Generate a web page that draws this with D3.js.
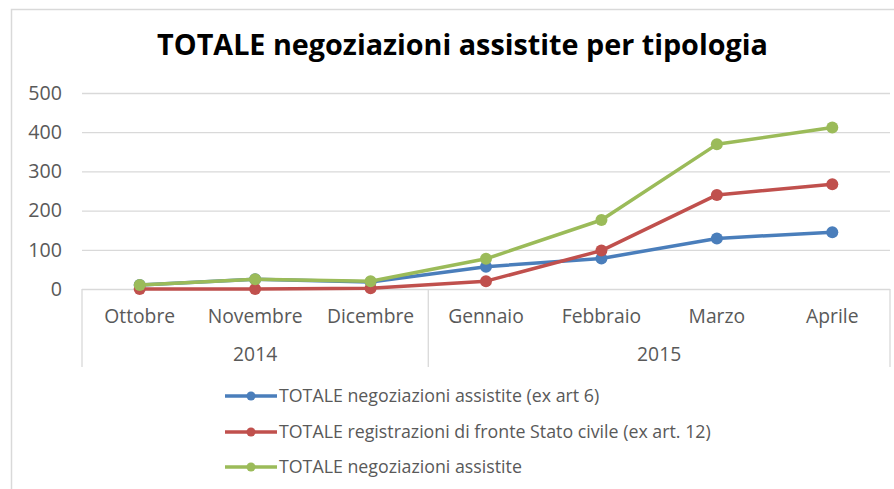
<!DOCTYPE html>
<html>
<head>
<meta charset="utf-8">
<script src="https://cdn.jsdelivr.net/npm/d3@7"></script>
<style>
  html, body { margin: 0; padding: 0; background: #fff; }
  svg { display: block; }
  text { font-family: "Open Sans", "Noto Sans", sans-serif; }
</style>
</head>
<body>
<svg id="chart" width="894" height="489"></svg>
<script>
// ---------- data ----------
const categories = ["Ottobre", "Novembre", "Dicembre", "Gennaio", "Febbraio", "Marzo", "Aprile"];
const yearOfCategory = ["2014", "2014", "2014", "2015", "2015", "2015", "2015"];
const seriesNames = [
  "TOTALE negoziazioni assistite (ex art 6)",
  "TOTALE registrazioni di fronte Stato civile (ex art. 12)",
  "TOTALE negoziazioni assistite"
];
const art6Values = [10, 25, 18, 57, 78, 129, 145];
const art12Values = [0, 0, 2, 20, 98, 240, 267];
const totalValues = [10, 25, 20, 77, 176, 369, 412];
const yTicks = [0, 100, 200, 300, 400, 500];
const titleText = "TOTALE negoziazioni assistite per tipologia";

(function () {
// ---------- layout ----------
const colors = ["#4A7EBB", "#C0504D", "#9BBB59"];
const seriesValues = [art6Values, art12Values, totalValues];
const plotLeft = 82, plotRight = 890, plotTop = 93, plotBottom = 289;
const axisBoxBottom = 367;
const svg = d3.select("#chart");

const x = d3.scaleBand().domain(categories).range([plotLeft, plotRight]).padding(0);
const cx = c => x(c) + x.bandwidth() / 2;
const y = d3.scaleLinear().domain([0, 500]).range([plotBottom, plotTop]);

function fitSize(textSel, target) {
  textSel.style("font-size", "20px");
  const w = textSel.node().getComputedTextLength();
  const s = 20 * target / w;
  textSel.style("font-size", s + "px");
  return s;
}

// chart border (left/top visible)
svg.append("rect")
  .attr("x", 11.5).attr("y", 9.5)
  .attr("width", 1000).attr("height", 1000)
  .attr("fill", "none").attr("stroke", "#d9d9d9").attr("stroke-width", 1.5);

// title
const title = svg.append("text")
  .attr("x", 462.5).attr("y", 55)
  .attr("text-anchor", "middle")
  .attr("font-weight", "bold")
  .attr("fill", "#000")
  .text(titleText);
fitSize(title, 611);

// gridlines
svg.append("g").selectAll("line")
  .data(yTicks.filter(t => t > 0))
  .join("line")
  .attr("x1", plotLeft).attr("x2", plotRight)
  .attr("y1", d => y(d) + 0.5).attr("y2", d => y(d) + 0.5)
  .attr("stroke", "#d9d9d9").attr("stroke-width", 1.3);

// y tick labels
const yLab = svg.append("g").selectAll("text")
  .data(yTicks)
  .join("text")
  .attr("x", 62).attr("y", d => y(d))
  .attr("dy", "0.35em")
  .attr("text-anchor", "end")
  .attr("fill", "#595959")
  .text(d => d);
const ySize = fitSize(yLab.filter(d => d === 500), 33.7);
yLab.style("font-size", ySize + "px");

// x axis box
const axisG = svg.append("g");
axisG.append("line")
  .attr("x1", plotLeft).attr("x2", plotRight)
  .attr("y1", plotBottom + 0.5).attr("y2", plotBottom + 0.5)
  .attr("stroke", "#d9d9d9").attr("stroke-width", 1.3);
const years = Array.from(new Set(yearOfCategory));
const yearGroups = years.map(yr => {
  const cats = categories.filter((c, i) => yearOfCategory[i] === yr);
  return { year: yr, x0: x(cats[0]), x1: x(cats[cats.length - 1]) + x.bandwidth() };
});
const dividers = [plotLeft].concat(yearGroups.map(g => g.x1));
axisG.selectAll("line.div")
  .data(dividers)
  .join("line")
  .attr("class", "div")
  .attr("x1", d => d).attr("x2", d => d)
  .attr("y1", plotBottom).attr("y2", axisBoxBottom)
  .attr("stroke", "#d9d9d9").attr("stroke-width", 1.3);

// month labels
const monthLab = axisG.selectAll("text.month")
  .data(categories)
  .join("text")
  .attr("class", "month")
  .attr("x", d => cx(d)).attr("y", 316)
  .attr("dy", "0.35em")
  .attr("text-anchor", "middle")
  .attr("fill", "#595959")
  .text(d => d);
const mSize = fitSize(monthLab.filter(d => d === "Novembre"), 95);
monthLab.style("font-size", mSize + "px");

// year labels
axisG.selectAll("text.year")
  .data(yearGroups)
  .join("text")
  .attr("class", "year")
  .attr("x", d => (d.x0 + d.x1) / 2).attr("y", 354)
  .attr("dy", "0.35em")
  .attr("text-anchor", "middle")
  .attr("fill", "#595959")
  .style("font-size", mSize + "px")
  .text(d => d.year);

// series
const line = d3.line()
  .x((d, i) => cx(categories[i]))
  .y(d => y(d));
seriesValues.forEach((vals, si) => {
  const g = svg.append("g");
  g.append("path")
    .datum(vals)
    .attr("d", line)
    .attr("fill", "none")
    .attr("stroke", colors[si])
    .attr("stroke-width", 3.5)
    .attr("stroke-linejoin", "round")
    .attr("stroke-linecap", "round");
  g.selectAll("circle")
    .data(vals)
    .join("circle")
    .attr("cx", (d, i) => cx(categories[i]))
    .attr("cy", d => y(d))
    .attr("r", 6)
    .attr("fill", colors[si]);
});

// legend
const legendRows = [396, 432, 467];
const legend = svg.append("g").selectAll("g")
  .data(seriesNames)
  .join("g");
legend.append("line")
  .attr("x1", 225).attr("x2", 277)
  .attr("y1", (d, i) => legendRows[i]).attr("y2", (d, i) => legendRows[i])
  .attr("stroke", (d, i) => colors[i])
  .attr("stroke-width", 3.5);
legend.append("circle")
  .attr("cx", 251).attr("cy", (d, i) => legendRows[i])
  .attr("r", 4.5)
  .attr("fill", (d, i) => colors[i]);
const legText = legend.append("text")
  .attr("x", 279).attr("y", (d, i) => legendRows[i])
  .attr("dy", "0.35em")
  .attr("fill", "#595959")
  .text(d => d);
const lSize = fitSize(legText.filter((d, i) => i === 1), 432);
legText.style("font-size", lSize + "px");
})();
</script>
</body>
</html>
